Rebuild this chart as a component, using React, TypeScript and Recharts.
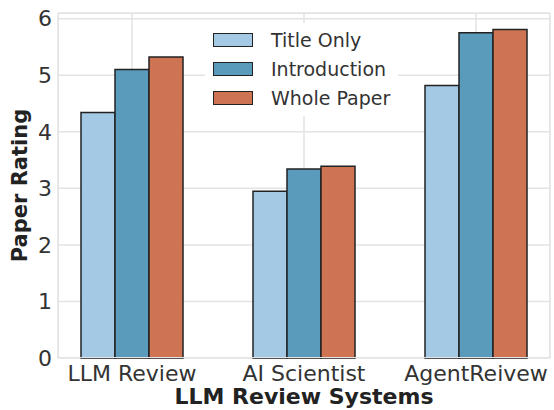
import React from 'react'
import { BarChart, Bar, XAxis, YAxis, CartesianGrid } from 'recharts'

const systems = ['LLM Review', 'AI Scientist', 'AgentReivew']
const titleOnly = [4.34, 2.95, 4.82]
const introduction = [5.1, 3.34, 5.75]
const wholePaper = [5.32, 3.39, 5.81]
const yTicks = [0, 1, 2, 3, 4, 5, 6]

const series = [
  { key: 'title', name: 'Title Only', color: '#a3c9e4' },
  { key: 'intro', name: 'Introduction', color: '#5a9abb' },
  { key: 'whole', name: 'Whole Paper', color: '#cf7453' },
]

const data = systems.map((s, i) => ({
  system: s,
  title: titleOnly[i],
  intro: introduction[i],
  whole: wholePaper[i],
}))

const font = 'DejaVu Sans, sans-serif'

function LegendBox() {
  return (
    <div
      style={{
        position: 'absolute',
        left: 205,
        top: 23,
        background: '#fff',
        padding: '2px 8px 4px 8px',
        fontFamily: font,
      }}
    >
      {series.map((s) => (
        <div key={s.key} style={{ display: 'flex', alignItems: 'center', height: 29 }}>
          <div
            style={{
              width: 38,
              height: 12,
              background: s.color,
              border: '1.5px solid #222',
              marginRight: 18,
            }}
          />
          <span style={{ fontSize: 19, color: '#333', lineHeight: '22px' }}>{s.name}</span>
        </div>
      ))}
    </div>
  )
}

export default function App() {
  return (
    <div style={{ position: 'absolute', left: 0, top: 0, width: 554, height: 410, background: '#fff' }}>
      <BarChart
        width={554}
        height={410}
        data={data}
        margin={{ top: 13, right: 4, bottom: 0, left: 0 }}
        barGap={0}
        barSize={34}
      >
        <CartesianGrid stroke="#e3e3e3" strokeWidth={1.5} />
        <XAxis
          dataKey="system"
          height={52}
          padding={{ left: -12, right: -12 }}
          axisLine={false}
          tickLine={false}
          tick={{ fontSize: 22, fill: '#333', fontFamily: font }}
          tickMargin={1}
          interval={0}
          label={{
            value: 'LLM Review Systems',
            position: 'insideBottom',
            offset: 6,
            style: { fontSize: 22, fontWeight: 'bold', fill: '#222', fontFamily: font },
          }}
        />
        <YAxis
          domain={[0, 6.1]}
          ticks={yTicks}
          width={58}
          axisLine={false}
          tickLine={false}
          tick={{ fontSize: 22, fill: '#333', fontFamily: font }}
          tickMargin={0}
          label={{
            value: 'Paper Rating',
            angle: -90,
            position: 'insideLeft',
            offset: 20,
            style: { fontSize: 21, fontWeight: 'bold', fill: '#222', fontFamily: font, textAnchor: 'middle' },
          }}
        />
        {series.map((s) => (
          <Bar
            key={s.key}
            dataKey={s.key}
            name={s.name}
            fill={s.color}
            stroke="#222"
            strokeWidth={1.5}
            isAnimationActive={false}
          />
        ))}
      </BarChart>
      <div
        style={{
          position: 'absolute',
          left: 58,
          top: 13,
          width: 492,
          height: 345,
          border: '1.5px solid #e3e3e3',
          boxSizing: 'border-box',
          pointerEvents: 'none',
        }}
      />
      <LegendBox />
    </div>
  )
}
